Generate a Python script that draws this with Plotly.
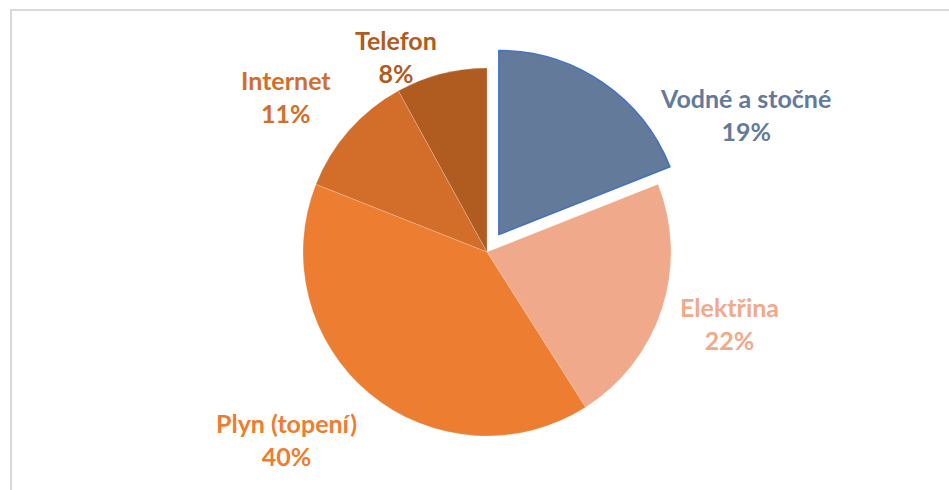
import plotly.graph_objects as go

# ---- data ----
categories = ["Vodné a stočné", "Elektřina", "Plyn (topení)", "Internet", "Telefon"]
values = [19, 22, 40, 11, 8]
slice_colors = ["#637A9B", "#F0A98A", "#ED7D31", "#D26D2A", "#B05B20"]
pulls = [0.115, 0, 0, 0, 0]

# label placement (pixel centres in the 949x490 canvas)
label_px = [(745, 114), (729, 323), (286, 439), (286, 97), (396, 56)]

W, H = 949, 490
r_px = 184
cx, cy = 487, 252
half = r_px * (1 + max(pulls))

fig = go.Figure()
fig.add_trace(go.Pie(
    labels=categories,
    values=values,
    sort=False,
    direction="clockwise",
    rotation=0,
    pull=pulls,
    textinfo="none",
    hoverinfo="label+percent",
    marker=dict(
        colors=slice_colors,
        line=dict(color=["#4472C4", "rgba(255,255,255,0.35)", "rgba(255,255,255,0.35)",
                         "rgba(255,255,255,0.35)", "rgba(255,255,255,0.35)"],
                  width=[1.6, 0.6, 0.6, 0.6, 0.6]),
    ),
    domain=dict(x=[(cx - half) / W, (cx + half) / W],
                y=[1 - (cy + half) / H, 1 - (cy - half) / H]),
    showlegend=False,
))

total = sum(values)
annotations = []
for cat, v, col, (px, py) in zip(categories, values, slice_colors, label_px):
    pct = round(v / total * 100)
    annotations.append(dict(
        text=f"{cat}<br>{pct}%",
        x=px / W, y=1 - py / H, xref="paper", yref="paper",
        xanchor="center", yanchor="middle", showarrow=False,
        font=dict(family="Lato, 'Open Sans', sans-serif", size=25, color=col, weight=700),
        align="center",
    ))

fig.update_layout(
    width=W, height=H,
    margin=dict(l=0, r=0, t=0, b=0),
    paper_bgcolor="white",
    plot_bgcolor="white",
    annotations=annotations,
    shapes=[dict(type="rect", xref="paper", yref="paper",
                 x0=11 / W, x1=1.05, y0=-0.05, y1=1 - 10 / H,
                 line=dict(color="#D9D9D9", width=2), fillcolor="rgba(0,0,0,0)", layer="below")],
)

fig.write_html("out.html")
